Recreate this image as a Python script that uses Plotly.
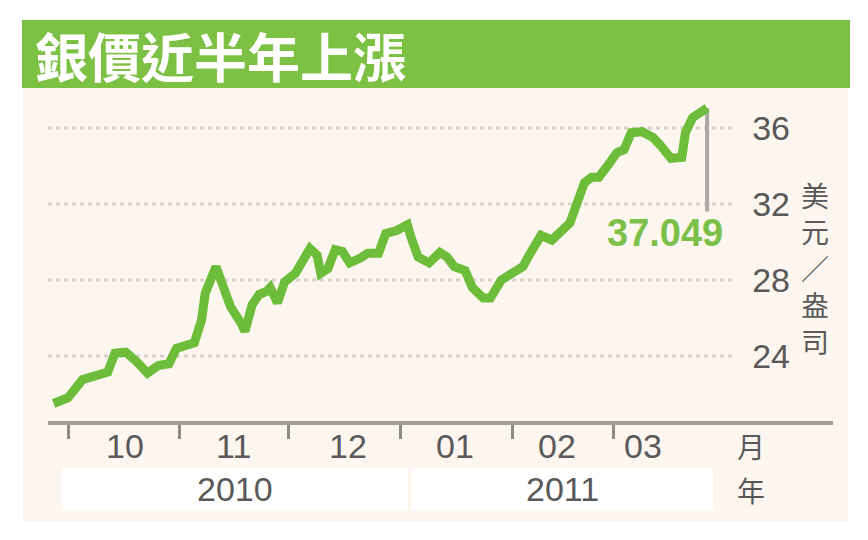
import plotly.graph_objects as go

# silver price, USD per ounce
DATES = ["2010-09-27", "2010-10-01", "2010-10-05", "2010-10-09", "2010-10-12",
         "2010-10-14", "2010-10-17", "2010-10-20", "2010-10-23", "2010-10-26",
         "2010-10-29", "2010-10-31", "2010-11-03", "2010-11-05", "2010-11-07",
         "2010-11-08", "2010-11-11", "2010-11-13", "2010-11-15", "2010-11-18",
         "2010-11-19", "2010-11-21", "2010-11-23", "2010-11-25", "2010-11-26",
         "2010-11-28", "2010-11-30", "2010-12-03", "2010-12-05", "2010-12-07",
         "2010-12-09", "2010-12-10", "2010-12-12", "2010-12-14", "2010-12-16",
         "2010-12-18", "2010-12-21", "2010-12-23", "2010-12-26", "2010-12-28",
         "2010-12-31", "2011-01-03", "2011-01-04", "2011-01-06", "2011-01-09",
         "2011-01-12", "2011-01-14", "2011-01-16", "2011-01-19", "2011-01-21",
         "2011-01-24", "2011-01-26", "2011-01-29", "2011-02-01", "2011-02-04",
         "2011-02-06", "2011-02-09", "2011-02-12", "2011-02-15", "2011-02-17",
         "2011-02-19", "2011-02-21", "2011-02-23", "2011-02-25", "2011-02-28",
         "2011-03-02", "2011-03-04", "2011-03-06", "2011-03-09", "2011-03-12",
         "2011-03-14", "2011-03-17", "2011-03-20", "2011-03-21", "2011-03-23",
         "2011-03-27"]
PRICES = [21.5, 21.8, 22.75, 23.0, 23.15,
          24.15, 24.2, 23.7, 23.1, 23.5,
          23.6, 24.4, 24.55, 24.7, 25.9,
          27.3, 28.7, 27.45, 26.6, 25.7,
          25.3, 26.7, 27.25, 27.4, 27.6,
          26.8, 27.9, 28.35, 29.1, 29.65,
          29.3, 28.35, 28.6, 29.6, 29.5,
          28.9, 29.15, 29.4, 29.4, 30.45,
          30.6, 30.9, 30.25, 29.2, 28.9,
          29.45, 29.2, 28.7, 28.5, 27.6,
          27.05, 27.05, 28.0, 28.4, 28.7,
          29.4, 30.35, 30.1, 30.6, 31.0,
          32.05, 33.1, 33.4, 33.4, 34.15,
          34.7, 34.85, 35.75, 35.8, 35.5,
          35.1, 34.4, 34.45, 35.75, 36.55,
          37.049]
LAST_LABEL = "37.049"

MONTH_STARTS = ["2010-10-01", "2010-11-01", "2010-12-01",
                "2011-01-01", "2011-02-01", "2011-03-01"]
MONTH_LABELS = ["10", "11", "12", "01", "02", "03"]
YEAR_LABELS = ["2010", "2011"]
Y_TICKS = [24, 28, 32, 36]

TITLE = "銀價近半年上漲"
UNIT_Y = "美<br>元<br>／<br>盎<br>司"

# layout in pixels of the 868x540 window (page body has an 8px margin)
W, H = 868, 540
OFFSET = 8
MONTH_X = [125, 233, 348, 455, 557, 643]
YEAR_BOX = [(62, 408), (411, 713)]

GREEN_BAR = "#7cc143"
LINE_GREEN = "#6dbd3a"
CREAM = "#fdf6ee"
GRID = "#d8d2cb"
AXIS = "#a39e98"
TEXT = "#595959"
NUM_FONT = "Liberation Sans Narrow, Arial Narrow, Liberation Sans, sans-serif"
CJK_FONT = "Noto Sans CJK TC, Noto Sans CJK SC, sans-serif"


def px(x):
    return (x - OFFSET) / W


def py(y):
    return 1 - (y - OFFSET) / H


fig = go.Figure(go.Scatter(
    x=DATES, y=PRICES, mode="lines",
    line=dict(color=LINE_GREEN, width=9),
    hoverinfo="skip", showlegend=False))

shapes = [
    dict(type="rect", xref="paper", yref="paper", x0=px(23), x1=px(848),
         y0=py(521), y1=py(88), fillcolor=CREAM, line_width=0, layer="below"),
    dict(type="rect", xref="paper", yref="paper", x0=px(22), x1=px(850),
         y0=py(88), y1=py(20), fillcolor=GREEN_BAR, line_width=0, layer="below"),
]
for x0, x1 in YEAR_BOX:
    shapes.append(dict(type="rect", xref="paper", yref="paper",
                       x0=px(x0), x1=px(x1), y0=py(510), y1=py(468),
                       fillcolor="white", line_width=0, layer="below"))
for v in Y_TICKS:
    shapes.append(dict(type="line", xref="x domain", yref="y",
                       x0=0, x1=(732 - 48) / (833 - 48), y0=v, y1=v,
                       line=dict(color=GRID, width=3, dash="4px,4px"),
                       layer="below"))
# marker line down to the last price label
shapes.append(dict(type="line", xref="x", yref="y",
                   x0=DATES[-1], x1=DATES[-1], y0=PRICES[-1], y1=31.6,
                   line=dict(color="#a9a9a9", width=4), layer="below"))

annotations = [
    dict(text="<b>" + TITLE + "</b>", xref="paper", yref="paper",
         x=px(33), y=py(55), xanchor="left", yanchor="middle", showarrow=False,
         font=dict(family=CJK_FONT, size=53, color="white")),
    dict(text="<b>" + LAST_LABEL + "</b>", xref="paper", yref="paper",
         x=px(725), y=py(233), xanchor="right", yanchor="middle", showarrow=False,
         font=dict(family=NUM_FONT, size=38, color="#7cc04a")),
    dict(text=UNIT_Y, xref="paper", yref="paper",
         x=px(815), y=py(268), xanchor="center", yanchor="middle", showarrow=False,
         font=dict(family=CJK_FONT, size=28, color=TEXT)),
    dict(text="月", xref="paper", yref="paper",
         x=px(751), y=py(446), xanchor="center", yanchor="middle", showarrow=False,
         font=dict(family=CJK_FONT, size=28, color=TEXT)),
    dict(text="年", xref="paper", yref="paper",
         x=px(751), y=py(490), xanchor="center", yanchor="middle", showarrow=False,
         font=dict(family=CJK_FONT, size=28, color=TEXT)),
]
for lab, x in zip(MONTH_LABELS, MONTH_X):
    annotations.append(dict(text=lab, xref="paper", yref="paper",
                            x=px(x), y=py(446), xanchor="center", yanchor="middle",
                            showarrow=False,
                            font=dict(family=NUM_FONT, size=34, color=TEXT)))
for lab, (x0, x1) in zip(YEAR_LABELS, YEAR_BOX):
    annotations.append(dict(text=lab, xref="paper", yref="paper",
                            x=px((x0 + x1) / 2), y=py(489), xanchor="center",
                            yanchor="middle", showarrow=False,
                            font=dict(family=NUM_FONT, size=34, color=TEXT)))

fig.update_layout(
    width=W, height=H,
    margin=dict(l=0, r=0, t=0, b=0),
    paper_bgcolor="white",
    plot_bgcolor="rgba(0,0,0,0)",
    showlegend=False,
    shapes=shapes,
    annotations=annotations,
    xaxis=dict(type="date", domain=[px(48), px(833)],
               range=["2010-09-25 11:00", "2011-04-30 21:00"],
               tickvals=MONTH_STARTS, showticklabels=False,
               ticks="outside", ticklen=14, tickwidth=3, tickcolor="#8f8a85",
               showline=True, linewidth=4, linecolor=AXIS,
               showgrid=False, zeroline=False, automargin=False, fixedrange=True),
    yaxis=dict(domain=[py(421), py(92)], range=[20.58, 37.89],
               tickvals=Y_TICKS, side="right", ticklabelposition="inside",
               ticklabelstandoff=40, ticks="", showline=False,
               tickfont=dict(family=NUM_FONT, size=34, color=TEXT),
               showgrid=False, zeroline=False, automargin=False, fixedrange=True),
)

fig.write_html("out.html")
